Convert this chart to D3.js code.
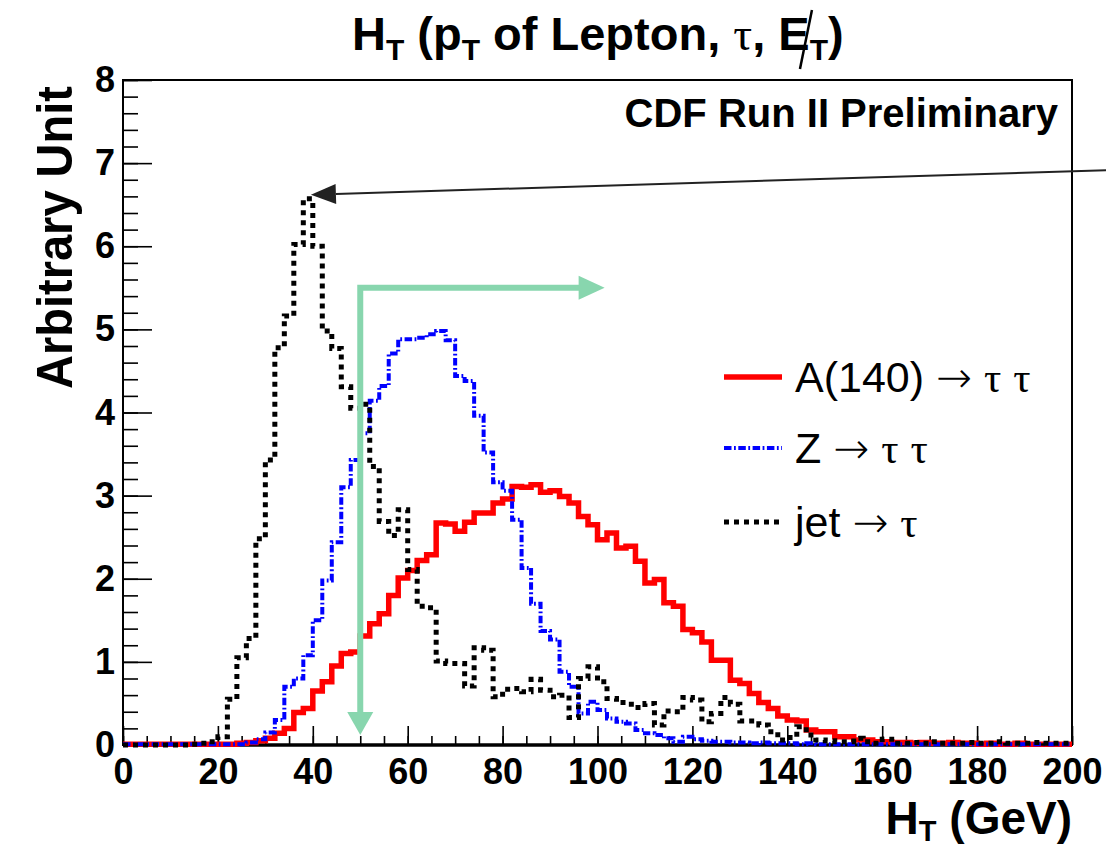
<!DOCTYPE html>
<html>
<head>
<meta charset="utf-8">
<script src="https://cdn.jsdelivr.net/npm/d3@7/dist/d3.min.js"></script>
<style>
  body { margin: 0; background: #fff; }
  svg { display: block; font-family: "Liberation Sans", Arial, Helvetica, sans-serif; }
</style>
</head>
<body>
<svg id="chart"></svg>
<script>
// H_T histograms, 2 GeV bins from 0 to 200
const binWidth = 2;
const binLow = d3.range(0, 200, binWidth);

// A(140) -> tau tau
const aToTauTau = [
  0.01, 0.01, 0.01, 0.01, 0.01, 0.01, 0.01, 0.01, 0.01, 0.01,
  0.01, 0.01, 0.02, 0.03, 0.05, 0.08, 0.14, 0.20, 0.39, 0.44,
  0.65, 0.76, 0.95, 1.10, 1.12, 1.31, 1.46, 1.58, 1.80, 2.01,
  2.10, 2.22, 2.29, 2.67, 2.66, 2.57, 2.68, 2.79, 2.79, 2.91,
  2.96, 3.11, 3.10, 3.13, 3.04, 3.06, 2.99, 2.91, 2.75, 2.65,
  2.47, 2.55, 2.37, 2.39, 2.21, 1.95, 1.99, 1.71, 1.67, 1.39,
  1.35, 1.24, 1.02, 1.02, 0.78, 0.74, 0.62, 0.51, 0.44, 0.35,
  0.30, 0.29, 0.18, 0.16, 0.16, 0.10, 0.10, 0.06, 0.06, 0.04,
  0.04, 0.03, 0.03, 0.02, 0.03, 0.02, 0.02, 0.03, 0.02, 0.02,
  0.01, 0.02, 0.01, 0.01, 0.02, 0.01, 0.01, 0.01, 0.01, 0.01
];

// Z -> tau tau
const zToTauTau = [
  0.01, 0.01, 0.01, 0.01, 0.01, 0.01, 0.01, 0.01, 0.01, 0.01,
  0.01, 0.01, 0.01, 0.03, 0.07, 0.15, 0.30, 0.70, 0.80, 1.08,
  1.50, 1.98, 2.44, 3.10, 3.43, 3.75, 4.14, 4.32, 4.71, 4.88,
  4.88, 4.90, 4.94, 4.98, 4.87, 4.44, 4.38, 3.96, 3.52, 3.16,
  3.06, 2.71, 2.13, 1.70, 1.37, 1.27, 0.88, 0.70, 0.38, 0.52,
  0.42, 0.32, 0.28, 0.26, 0.18, 0.14, 0.12, 0.08, 0.04, 0.10,
  0.07, 0.05, 0.04, 0.04, 0.03, 0.03, 0.02, 0.03, 0.02, 0.02,
  0.02, 0.01, 0.02, 0.01, 0.01, 0.01, 0.01, 0.01, 0.01, 0.01,
  0.01, 0.01, 0.01, 0.01, 0.01, 0.01, 0.01, 0.01, 0.01, 0.01,
  0.01, 0.01, 0.01, 0.01, 0.01, 0.01, 0.01, 0.01, 0.01, 0.01
];

// jet -> tau
const jetToTau = [
  0.00, 0.00, 0.00, 0.00, 0.00, 0.00, 0.00, 0.01, 0.02, 0.04,
  0.10, 0.55, 1.05, 1.28, 2.48, 3.43, 4.78, 5.16, 6.02, 6.57,
  6.00, 4.98, 4.77, 4.31, 4.05, 4.10, 3.35, 2.69, 2.52, 2.83,
  2.11, 1.67, 1.65, 1.01, 0.98, 0.98, 0.71, 1.17, 1.14, 0.58,
  0.67, 0.68, 0.64, 0.79, 0.66, 0.58, 0.60, 0.33, 0.80, 0.94,
  0.76, 0.56, 0.51, 0.49, 0.45, 0.50, 0.24, 0.41, 0.40, 0.57,
  0.54, 0.28, 0.38, 0.57, 0.49, 0.29, 0.29, 0.24, 0.16, 0.06,
  0.09, 0.22, 0.12, 0.06, 0.05, 0.04, 0.04, 0.08, 0.04, 0.02,
  0.07, 0.02, 0.02, 0.03, 0.02, 0.04, 0.02, 0.02, 0.02, 0.03,
  0.02, 0.02, 0.04, 0.02, 0.02, 0.02, 0.03, 0.02, 0.02, 0.02
];

const xTicks = [0, 20, 40, 60, 80, 100, 120, 140, 160, 180, 200];
const yTicks = [0, 1, 2, 3, 4, 5, 6, 7, 8];

const legendItems = [
  {label: "A(140) \u2192 \u03c4 \u03c4", key: "a"},
  {label: "Z \u2192 \u03c4 \u03c4", key: "z"},
  {label: "jet \u2192 \u03c4", key: "jet"}
];

// cut arrows (H_T > 50 GeV) and pointer to the jet peak
const cutValue = 50;
const cutArrowTop = 5.5;
const cutArrowBottom = 0.12;
const cutArrowRight = 101.5;
const pointerTip = {x: 39.6, y: 6.62};
const pointerStart = {x: 210, y: 6.92};

const styles = {
  a:   {color: "#ff0000", width: 5.5, dash: null},
  z:   {color: "#0000ff", width: 4, dash: "7.5,2.5,1.8,2.5"},
  jet: {color: "#000000", width: 5, dash: "5,5"}
};

const W = 1106, H = 850;
const margin = {top: 80, right: 34, bottom: 105, left: 123};

const svg = d3.select("#chart").attr("width", W).attr("height", H);

const xScale = d3.scaleLinear().domain([0, 200]).range([margin.left, W - margin.right]);
const yScale = d3.scaleLinear().domain([0, 8]).range([H - margin.bottom, margin.top]);

// frame
svg.append("rect")
  .attr("x", xScale(0)).attr("y", yScale(8))
  .attr("width", xScale(200) - xScale(0)).attr("height", yScale(0) - yScale(8))
  .attr("fill", "none").attr("stroke", "#000").attr("stroke-width", 2);

// axes with inward ticks
const xAxisG = svg.append("g").attr("transform", `translate(0,${yScale(0)})`);
xAxisG.call(d3.axisBottom(xScale).tickValues(d3.range(0, 201, 5)).tickSizeInner(-9).tickSizeOuter(0).tickFormat(""));
xAxisG.append("g").call(d3.axisBottom(xScale).tickValues(xTicks).tickSizeInner(-19).tickSizeOuter(0).tickPadding(13).tickFormat(d3.format("d")));

const yAxisG = svg.append("g").attr("transform", `translate(${xScale(0)},0)`);
yAxisG.call(d3.axisLeft(yScale).tickValues(d3.range(0, 8.01, 0.2)).tickSizeInner(-15).tickSizeOuter(0).tickFormat(""));
yAxisG.append("g").call(d3.axisLeft(yScale).tickValues(yTicks).tickSizeInner(-29).tickSizeOuter(0).tickPadding(8).tickFormat(d3.format("d")));

svg.selectAll(".domain").remove();
svg.selectAll(".tick line").attr("stroke", "#000").attr("stroke-width", 1.6);
svg.selectAll(".tick text")
  .attr("fill", "#000")
  .style("font-family", "'Liberation Sans', Arial, sans-serif")
  .style("font-weight", "bold")
  .style("font-size", "36px");

// thicker bottom axis line
svg.append("line")
  .attr("x1", xScale(0)).attr("x2", xScale(200))
  .attr("y1", yScale(0)).attr("y2", yScale(0))
  .attr("stroke", "#000").attr("stroke-width", 3.5);

// histograms
const stepLine = d3.line()
  .x(d => xScale(d[0]))
  .y(d => yScale(d[1]))
  .curve(d3.curveStepAfter);

function histPoints(values) {
  const pts = binLow.map((x, i) => [x, values[i]]);
  pts.push([200, values[values.length - 1]]);
  return pts;
}

const series = [
  {key: "a", values: aToTauTau},
  {key: "z", values: zToTauTau},
  {key: "jet", values: jetToTau}
];

svg.append("g").selectAll("path")
  .data(series)
  .join("path")
    .attr("d", d => stepLine(histPoints(d.values)))
    .attr("fill", "none")
    .attr("stroke", d => styles[d.key].color)
    .attr("stroke-width", d => styles[d.key].width)
    .attr("stroke-dasharray", d => styles[d.key].dash)
    .attr("stroke-linejoin", "miter")
    .attr("stroke-linecap", "butt");

// green cut arrows
const green = "#88d6ae";
const cx = xScale(cutValue);
const topY = yScale(cutArrowTop);
const cutG = svg.append("g");
cutG.append("path")
  .attr("d", `M${cx},${yScale(cutArrowBottom) - 20} L${cx},${topY} L${xScale(cutArrowRight) - 22},${topY}`)
  .attr("fill", "none").attr("stroke", green).attr("stroke-width", 6)
  .attr("stroke-linejoin", "miter").attr("stroke-linecap", "butt");
const tipDown = yScale(cutArrowBottom);
cutG.append("path")
  .attr("d", `M${cx - 13},${tipDown - 23} L${cx + 13},${tipDown - 23} L${cx},${tipDown} Z`)
  .attr("fill", green);
const tipRight = xScale(cutArrowRight);
cutG.append("path")
  .attr("d", `M${tipRight - 26},${topY - 12} L${tipRight - 26},${topY + 12} L${tipRight},${topY} Z`)
  .attr("fill", green);

// pointer arrow to jet peak
const px0 = xScale(pointerStart.x), py0 = yScale(pointerStart.y);
const px1 = xScale(pointerTip.x), py1 = yScale(pointerTip.y);
const ang = Math.atan2(py0 - py1, px0 - px1);
const headLen = 25, headHalf = 10;
const bx = px1 + headLen * Math.cos(ang), by = py1 + headLen * Math.sin(ang);
svg.append("line")
  .attr("x1", px0).attr("y1", py0).attr("x2", bx).attr("y2", by)
  .attr("stroke", "#222").attr("stroke-width", 2);
svg.append("path")
  .attr("d", `M${px1},${py1} L${bx - headHalf * Math.sin(ang)},${by + headHalf * Math.cos(ang)} L${bx + headHalf * Math.sin(ang)},${by - headHalf * Math.cos(ang)} Z`)
  .attr("fill", "#222");

// legend
const legend = svg.append("g");
const legendRowsY = [377, 448, 522];
legendItems.forEach((item, i) => {
  const st = styles[item.key];
  legend.append("line")
    .attr("x1", 724).attr("x2", 782)
    .attr("y1", legendRowsY[i]).attr("y2", legendRowsY[i])
    .attr("stroke", st.color).attr("stroke-width", st.width)
    .attr("stroke-dasharray", st.dash);
  const t = legend.append("text")
    .attr("x", 795).attr("y", legendRowsY[i] + 15)
    .style("font-size", "43px");
  // arrows and taus in symbol-like faces
  item.label.split(/(\u2192|\u03c4)/).filter(s => s.length).forEach(part => {
    const sp = t.append("tspan").text(part);
    if (part === "\u2192") sp.style("font-family", "'DejaVu Sans', sans-serif").style("font-weight", "200");
    if (part === "\u03c4") sp.style("font-family", "'Liberation Serif', serif");
  });
});

// texts
svg.append("text")
  .attr("x", 1058).attr("y", 127)
  .attr("text-anchor", "end")
  .style("font-size", "40px").style("font-weight", "bold")
  .text("CDF Run II Preliminary");

const title = svg.append("text")
  .attr("x", 352).attr("y", 50)
  .style("font-size", "47px").style("font-weight", "bold");
title.append("tspan").text("H");
title.append("tspan").attr("dy", 10).style("font-size", "30px").text("T");
title.append("tspan").attr("dy", -10).text(" (p");
title.append("tspan").attr("dy", 10).style("font-size", "30px").text("T");
title.append("tspan").attr("dy", -10).text(" of Lepton, ");
title.append("tspan").style("font-family", "'Liberation Serif', serif").style("font-weight", "normal").text("\u03c4");
title.append("tspan").text(", ");
const eSpan = title.append("tspan").text("E");
title.append("tspan").attr("dy", 10).style("font-size", "30px").text("T");
title.append("tspan").attr("dy", -10).text(")");

const eNode = eSpan.node();
const e0 = eNode.getStartPositionOfChar(0), e1 = eNode.getEndPositionOfChar(0);
const eMid = (e0.x + e1.x) / 2;
svg.append("line")
  .attr("x1", eMid + 18).attr("y1", e0.y - 40)
  .attr("x2", eMid + 6).attr("y2", e0.y + 19)
  .attr("stroke", "#000").attr("stroke-width", 2.5);

const xTitle = svg.append("text")
  .attr("x", 1072).attr("y", 834)
  .attr("text-anchor", "end")
  .style("font-size", "46px").style("font-weight", "bold");
xTitle.append("tspan").text("H");
xTitle.append("tspan").attr("dy", 7).style("font-size", "29px").text("T");
xTitle.append("tspan").attr("dy", -7).text(" (GeV)");

svg.append("text")
  .attr("transform", "translate(72,86) rotate(-90)")
  .attr("text-anchor", "end")
  .attr("textLength", 303).attr("lengthAdjust", "spacingAndGlyphs")
  .style("font-size", "50px").style("font-weight", "bold")
  .text("Arbitrary Unit");
</script>
</body>
</html>
